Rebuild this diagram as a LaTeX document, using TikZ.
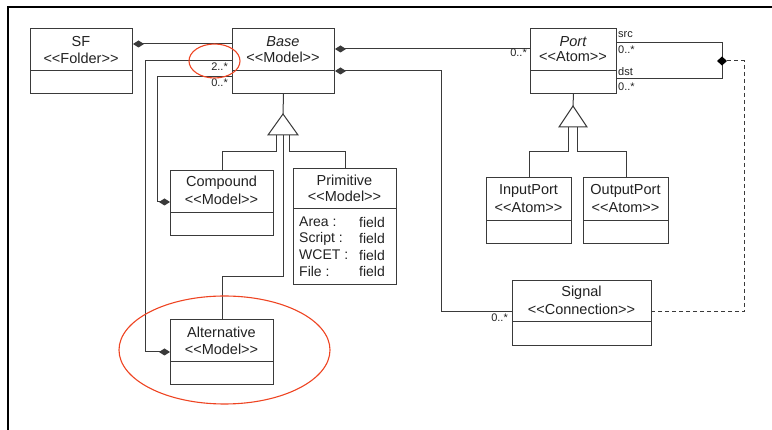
\documentclass[tikz,border=0pt]{standalone}
\usepackage{fontspec}
\setmainfont{Liberation Sans}
\usetikzlibrary{arrows.meta}
\definecolor{ln}{HTML}{3A3A3A}
\definecolor{txt}{HTML}{222222}
\definecolor{redc}{HTML}{EE4422}
\newcommand{\stereo}[1]{<{}<#1>{}>}
\begin{document}
\begin{tikzpicture}[x=1pt,y=-1pt,
  box/.style={draw=ln, line width=1pt, fill=white, anchor=north west, inner sep=0pt},
  lbl/.style={font=\fontsize{14.5}{16}\selectfont, text=txt, inner sep=0pt, align=center},
  attr/.style={font=\fontsize{14}{16}\selectfont, text=txt, inner sep=0pt, anchor=west},
  small/.style={font=\fontsize{11}{12}\selectfont, text=txt, inner sep=0pt},
  conn/.style={draw=ln, line width=1pt},
  dashconn/.style={draw=ln, line width=1pt, dash pattern=on 4pt off 3pt},
  redring/.style={draw=redc, line width=1.1pt}
]
\useasboundingbox (0,0) rectangle (772,430);
% frame
\draw[black, line width=2.5pt] (8,430) -- (8,7) -- (772,7);

% boxes
\node[box, minimum width=102pt, minimum height=65pt] (sf) at (30,28) {};
\node[box, minimum width=102pt, minimum height=65pt] (base) at (232,28) {};
\node[box, minimum width=86pt, minimum height=65pt] (port) at (530,28) {};
\node[box, minimum width=103pt, minimum height=65pt] (compound) at (170,170) {};
\node[box, minimum width=103pt, minimum height=116pt] (primitive) at (293,168) {};
\node[box, minimum width=103pt, minimum height=65pt] (alt) at (170,319) {};
\node[box, minimum width=85pt, minimum height=66pt] (inport) at (486,177) {};
\node[box, minimum width=85pt, minimum height=66pt] (outport) at (583,177) {};
\node[box, minimum width=139pt, minimum height=65pt] (signal) at (512,280) {};

% dividers
\draw[conn] (sf.west|-0,71) -- (sf.east|-0,71);
\draw[conn] (base.west|-0,71) -- (base.east|-0,71);
\draw[conn] (port.west|-0,71) -- (port.east|-0,71);
\draw[conn] (compound.west|-0,213) -- (compound.east|-0,213);
\draw[conn] (primitive.west|-0,209) -- (primitive.east|-0,209);
\draw[conn] (alt.west|-0,362) -- (alt.east|-0,362);
\draw[conn] (inport.west|-0,221) -- (inport.east|-0,221);
\draw[conn] (outport.west|-0,221) -- (outport.east|-0,221);
\draw[conn] (signal.west|-0,322) -- (signal.east|-0,322);

% texts
\node[lbl] (sfn) at (81,42) {SF};
\node[lbl] (sfs) at (81,58) {\stereo{Folder}};
\node[lbl] (basen) at (283,42) {\itshape Base};
\node[lbl] (bases) at (283,57) {\stereo{Model}};
\node[lbl] (portn) at (573,42) {\itshape Port};
\node[lbl] (ports) at (573,57) {\stereo{Atom}};
\node[lbl] (compn) at (221.5,183) {Compound};
\node[lbl] (comps) at (221.5,199) {\stereo{Model}};
\node[lbl] (primn) at (344.5,180) {Primitive};
\node[lbl] (prims) at (344.5,196) {\stereo{Model}};
\node[attr] (a1) at (299,222) {Area :};
\node[attr] (a2) at (299,238.5) {Script :};
\node[attr] (a3) at (299,255) {WCET :};
\node[attr] (a4) at (299,271.5) {File :};
\node[attr] (f1) at (359,222) {field};
\node[attr] (f2) at (359,238.5) {field};
\node[attr] (f3) at (359,255) {field};
\node[attr] (f4) at (359,271.5) {field};
\node[lbl] (altn) at (221.5,332) {Alternative};
\node[lbl] (alts) at (221.5,349) {\stereo{Model}};
\node[lbl] (inn) at (528.5,191) {InputPort};
\node[lbl] (ins) at (528.5,208) {\stereo{Atom}};
\node[lbl] (outn) at (625.5,191) {OutputPort};
\node[lbl] (outs) at (625.5,208) {\stereo{Atom}};
\node[lbl] (sign) at (581.5,293) {Signal};
\node[lbl] (sigs) at (581.5,309) {\stereo{Connection}};

% associations
\draw[conn,{Diamond[length=11pt,width=7pt]}-] (sf.east|-0,44) -- (base.west|-0,44);
\draw[conn,-{Diamond[length=11pt,width=7pt]}] (base.west|-0,61) -- (145,61) -- (145,352) -- (alt.west|-0,352);
\draw[conn,-{Diamond[length=11pt,width=7pt]}] (base.west|-0,77) -- (157,77) -- (157,202) -- (compound.west|-0,202);
\draw[conn,{Diamond[length=11pt,width=7pt]}-] (base.east|-0,49) -- (port.west|-0,49);
\draw[conn,{Diamond[length=11pt,width=7pt]}-] (base.east|-0,71) -- (441,71) -- (441,312) -- (signal.west|-0,312);

% inheritance Base
\draw[conn] (base.south) -- (283,114);
\draw[conn, fill=white] (283,114) -- (298,135) -- (268,135) -- cycle;
\draw[conn] (276,135) -- (276,152) -| (compound.north);
\draw[conn] (289,135) -- (289,152) -| (primitive.north);
\draw[conn] (283,135) -- (283,277) -| (alt.north);

% inheritance Port
\draw[conn] (port.south) -- (573,106);
\draw[conn, fill=white] (573,106) -- (587,127) -- (559,127) -- cycle;
\draw[conn] (568.5,127) -- (568.5,152) -| (inport.north);
\draw[conn] (577.5,127) -- (577.5,152) -| (outport.north);

% src / dst
\coordinate (j) at (722,61);
\draw[conn] (port.east|-0,43) -- (722,43) -- (722,79) -- (port.east|-0,79);
\fill[black] (717,61) -- (722,56.5) -- (727,61) -- (722,65.5) -- cycle;
\draw[dashconn] (j) ++(5,0) -- (744,61) -- (744,312) -- (signal.east|-0,312);

% multiplicities
\node[small, anchor=east] (m1) at (228,67) {2..*};
\node[small, anchor=east] (m2) at (228,83) {0..*};
\node[small, anchor=east] (m3) at (527,53) {0..*};
\node[small, anchor=west] (m4) at (618,35) {src};
\node[small, anchor=west] (m5) at (618,50) {0..*};
\node[small, anchor=west] (m6) at (618,72) {dst};
\node[small, anchor=west] (m7) at (618,87) {0..*};
\node[small, anchor=east] (m8) at (508,318) {0..*};

% red highlight rings
\draw[redring] (214.5,61) ellipse [x radius=25.5, y radius=17];
\draw[redring] (224.5,350) ellipse [x radius=105.5, y radius=54];
\end{tikzpicture}
\end{document}
